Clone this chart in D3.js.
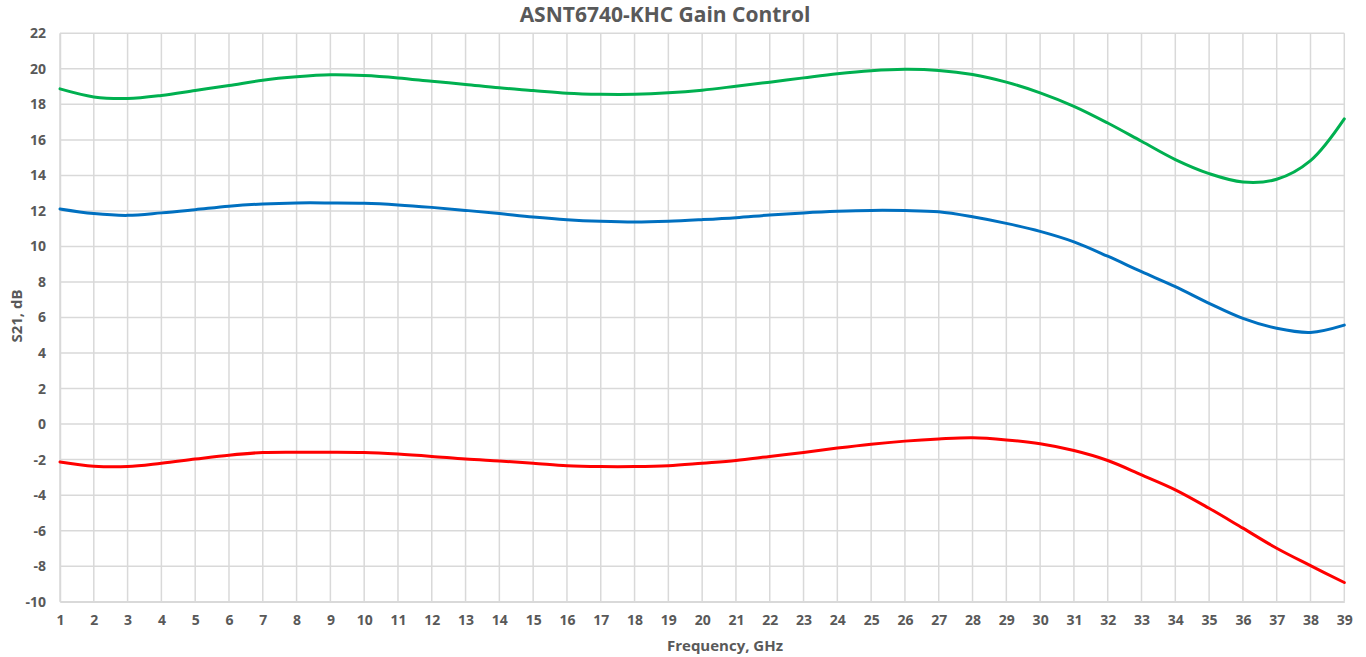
<!DOCTYPE html>
<html>
<head>
<meta charset="utf-8">
<script src="https://cdn.jsdelivr.net/npm/d3@7"></script>
<style>
  html, body { margin: 0; padding: 0; background: #fff; }
  svg text { font-family: "Open Sans", "Liberation Sans", sans-serif; font-weight: bold; fill: #595959; }
</style>
</head>
<body>
<svg id="chart" width="1366" height="657"></svg>
<script>
const freq = d3.range(1, 40);
const greenSeries = [18.87, 18.42, 18.33, 18.5, 18.78, 19.06, 19.36, 19.55, 19.66, 19.62,
  19.49, 19.3, 19.12, 18.93, 18.78, 18.63, 18.57, 18.57, 18.65, 18.8,
  19.02, 19.25, 19.49, 19.72, 19.89, 19.97, 19.91, 19.68, 19.25, 18.65,
  17.89, 16.95, 15.92, 14.89, 14.1, 13.63, 13.78, 14.83, 17.18];
const blueSeries = [12.11, 11.85, 11.75, 11.89, 12.07, 12.26, 12.39, 12.45, 12.45, 12.43,
  12.34, 12.2, 12.03, 11.85, 11.66, 11.51, 11.42, 11.38, 11.42, 11.51,
  11.62, 11.77, 11.89, 11.98, 12.03, 12.02, 11.95, 11.67, 11.3, 10.85,
  10.26, 9.45, 8.58, 7.74, 6.8, 5.95, 5.39, 5.16, 5.57];
const redSeries = [-2.13, -2.37, -2.39, -2.2, -1.97, -1.75, -1.6, -1.58, -1.58, -1.6,
  -1.69, -1.82, -1.97, -2.08, -2.2, -2.34, -2.39, -2.39, -2.34, -2.2,
  -2.05, -1.82, -1.6, -1.35, -1.13, -0.96, -0.84, -0.77, -0.89, -1.11,
  -1.49, -2.05, -2.86, -3.7, -4.74, -5.86, -6.99, -7.97, -8.92];
const yTicks = d3.range(-10, 23, 2);
const xTicks = d3.range(1, 40, 1);
const titleText = "ASNT6740-KHC Gain Control";
const xTitle = "Frequency, GHz";
const yTitle = "S21, dB";

const series = [
  { values: redSeries, color: "#FF0000" },
  { values: blueSeries, color: "#0070C0" },
  { values: greenSeries, color: "#00B050" }
];

const svg = d3.select("#chart");
const pLeft = 60, pRight = 1344.3, pTop = 33.3, pBottom = 601.7;
const x = d3.scaleLinear().domain([1, 39]).range([pLeft, pRight]);
const y = d3.scaleLinear().domain([-10, 22]).range([pBottom, pTop]);

// grid
const g = svg.append("g");
g.selectAll("line.h").data(yTicks).enter().append("line")
  .attr("x1", pLeft).attr("x2", pRight)
  .attr("y1", d => y(d)).attr("y2", d => y(d))
  .attr("stroke", "#d9d9d9").attr("stroke-width", 1.5);
g.selectAll("line.v").data(xTicks).enter().append("line")
  .attr("y1", pTop).attr("y2", pBottom)
  .attr("x1", d => x(d)).attr("x2", d => x(d))
  .attr("stroke", "#d9d9d9").attr("stroke-width", 1.5);

// axes
const yAxis = d3.axisLeft(y).tickValues(yTicks).tickSize(0).tickPadding(14).tickFormat(d => String(d));
const ya = svg.append("g").attr("transform", `translate(${pLeft},0)`).call(yAxis);
ya.select(".domain").attr("stroke", "#d9d9d9").attr("stroke-width", 1.5);
ya.selectAll("text").style("font-size", "14px");

const xAxis = d3.axisBottom(x).tickValues(xTicks).tickSize(0).tickPadding(13).tickFormat(d => String(d));
const xa = svg.append("g").attr("transform", `translate(0,${pBottom})`).call(xAxis);
xa.select(".domain").attr("stroke", "#d9d9d9").attr("stroke-width", 1.5);
xa.selectAll("text").style("font-size", "14px");

// lines
const line = d3.line().x((d, i) => x(freq[i])).y(d => y(d)).curve(d3.curveCatmullRom.alpha(0.5));
svg.selectAll("path.series").data(series).enter().append("path")
  .attr("class", "series")
  .attr("d", d => line(d.values))
  .attr("fill", "none")
  .attr("stroke", d => d.color)
  .attr("stroke-width", 3)
  .attr("stroke-linecap", "round");

// titles
svg.append("text").attr("x", 665).attr("y", 22).attr("text-anchor", "middle")
  .style("font-size", "21px").text(titleText);
svg.append("text").attr("x", 725).attr("y", 651).attr("text-anchor", "middle")
  .style("font-size", "15px").text(xTitle);
svg.append("text").attr("transform", "translate(22,316) rotate(-90)").attr("text-anchor", "middle")
  .style("font-size", "15px").text(yTitle);
</script>
</body>
</html>
